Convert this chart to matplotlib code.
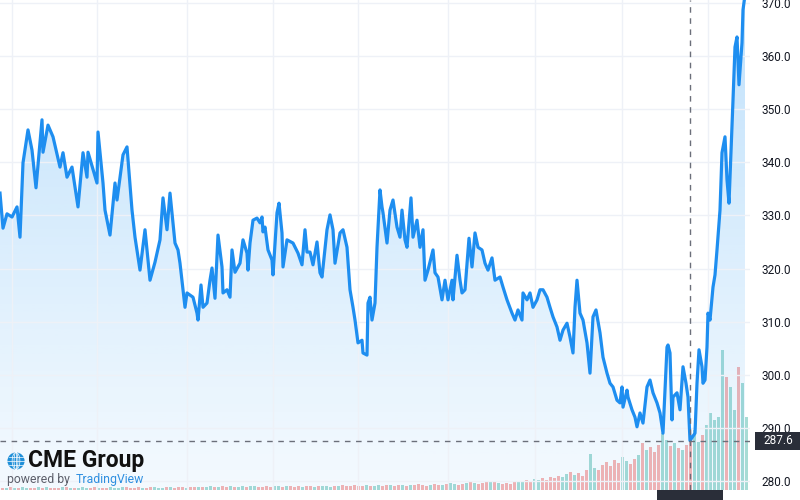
import matplotlib.pyplot as plt
import numpy as np
from matplotlib.patches import Polygon, Rectangle, Circle, Ellipse
from matplotlib.colors import to_rgb

# Price series (session index, settle)
session = [0, 3, 7, 12, 17, 20, 23, 28, 32, 36, 42, 43, 48, 53, 60, 63, 67, 72, 77, 78,
           83, 87, 88, 97, 98, 103, 105, 110, 115, 117, 123, 127, 132, 135, 140, 145, 147, 150, 155, 160,
           163, 167, 170, 175, 178, 180, 185, 187, 193, 197, 198, 201, 203, 207, 210, 212, 215, 218, 222, 223,
           227, 230, 232, 235, 240, 243, 247, 248, 250, 253, 257, 260, 262, 263, 265, 268, 272, 273, 277, 279,
           282, 283, 287, 293, 298, 302, 305, 307, 310, 313, 317, 320, 322, 327, 330, 333, 335, 340, 343, 347,
           350, 353, 355, 358, 362, 363, 367, 368, 370, 372, 375, 377, 380, 382, 383, 387, 390, 393, 397, 400,
           402, 405, 407, 411, 413, 417, 420, 423, 425, 428, 433, 435, 438, 442, 445, 448, 452, 453, 457, 460,
           462, 465, 469, 472, 475, 478, 482, 485, 488, 492, 495, 500, 503, 507, 512, 515, 518, 522, 523, 527,
           530, 533, 537, 540, 543, 547, 550, 553, 557, 560, 563, 567, 570, 573, 575, 577, 580, 583, 587, 590,
           593, 596, 600, 603, 607, 610, 613, 617, 620, 622, 623, 627, 628, 632, 635, 637, 640, 643, 647, 650,
           653, 657, 660, 663, 667, 668, 670, 672, 673, 677, 680, 683, 686, 688, 690, 695, 697, 699, 702, 703,
           705, 707, 708, 710, 713, 715, 717, 720, 722, 725, 727, 729, 732, 733, 735, 737, 739, 742, 743, 745]
price = [334.2, 327.6, 330.3, 329.7, 331.6, 325.9, 339.9, 346.1, 342.3, 335.2, 348.0, 341.9, 347.0, 344.8, 339.1, 341.8, 337.2, 339.1, 332.9, 331.6,
         341.8, 337.2, 341.9, 336.1, 345.7, 336.1, 331.0, 326.3, 336.1, 332.9, 341.4, 342.9, 331.0, 325.9, 319.7, 327.3, 323.5, 317.8, 321.2, 325.4,
         333.3, 327.3, 334.2, 324.8, 323.5, 321.0, 312.7, 315.4, 314.6, 311.6, 310.3, 316.9, 312.7, 313.5, 317.8, 320.1, 314.4, 326.3, 320.3, 315.4,
         316.0, 314.6, 323.5, 319.3, 321.0, 325.4, 322.9, 319.7, 324.8, 329.1, 329.5, 328.6, 329.7, 326.9, 327.8, 323.5, 321.6, 318.8, 330.5, 332.3,
         326.7, 320.3, 325.4, 324.8, 322.9, 320.7, 327.3, 323.1, 323.1, 320.7, 325.0, 319.2, 318.4, 327.3, 330.1, 327.3, 321.0, 326.7, 327.3, 324.0,
         316.0, 312.7, 310.3, 306.0, 306.5, 304.1, 303.7, 313.5, 314.6, 310.3, 313.5, 324.0, 334.8, 331.6, 330.5, 324.8, 331.0, 332.9, 327.8, 325.9,
         331.0, 325.4, 324.0, 333.3, 325.9, 329.1, 324.0, 327.3, 317.8, 319.7, 323.5, 319.2, 318.4, 314.1, 317.8, 314.1, 317.8, 314.1, 322.5, 317.8,
         315.4, 316.0, 325.7, 320.3, 326.7, 324.0, 323.5, 321.0, 319.7, 322.0, 317.8, 318.4, 316.5, 314.1, 311.6, 310.3, 312.2, 310.3, 315.4, 314.1,
         315.4, 312.7, 314.1, 316.0, 316.0, 314.6, 312.7, 310.9, 309.0, 306.5, 308.4, 309.7, 307.1, 304.1, 312.7, 317.8, 311.6, 310.3, 306.0, 300.3,
         310.9, 312.2, 307.9, 303.3, 300.3, 298.4, 297.7, 295.2, 294.7, 297.7, 293.9, 297.1, 295.8, 293.4, 292.0, 290.2, 292.8, 290.9, 297.7, 299.0,
         296.6, 294.7, 292.8, 289.0, 305.2, 305.6, 304.1, 291.5, 295.8, 296.6, 293.4, 301.5, 298.4, 295.8, 287.6, 289.0, 298.4, 304.7, 301.5, 298.4,
         299.0, 305.2, 311.6, 310.3, 316.5, 318.8, 323.5, 331.0, 341.8, 344.8, 336.7, 332.3, 346.6, 351.7, 361.7, 363.6, 354.6, 362.5, 368.7, 371.5]

# Volume (one bar every 4 sessions)
volume = [2, 2, 3, 2, 2, 3, 2, 2, 2, 3, 2, 3, 2, 2, 2, 3, 3, 2, 2, 2, 3, 2, 2, 3, 2,
          2, 2, 3, 2, 2, 3, 3, 2, 2, 3, 2, 2, 3, 3, 2, 2, 3, 3, 2, 3, 3, 2, 3, 3, 3,
          3, 3, 4, 3, 3, 4, 3, 4, 3, 3, 4, 3, 4, 4, 3, 3, 4, 3, 4, 4, 3, 4, 4, 3, 4,
          3, 4, 4, 3, 4, 4, 4, 3, 4, 4, 5, 4, 4, 5, 4, 4, 5, 4, 4, 5, 4, 5, 5, 4, 5,
          5, 4, 5, 5, 6, 5, 4, 5, 6, 5, 5, 6, 7, 6, 5, 6, 7, 8, 7, 6, 7, 8, 9, 8, 7,
          6, 7, 6, 8, 9, 8, 10, 9, 11, 10, 12, 10, 13, 12, 14, 13, 16, 18, 15, 17, 14, 20, 36, 22, 20,
          25, 28, 24, 30, 27, 33, 29, 26, 31, 35, 47, 40, 43, 38, 45, 57, 50, 44, 47, 42, 40, 45, 55, 60, 48,
          55, 65, 77, 70, 73, 140, 113, 103, 80, 123, 107, 73]

price_ticks = [280, 290, 300, 310, 320, 330, 340, 350, 360, 370]
month_lines = [12, 97, 187, 273, 358, 448, 535, 622, 708]
cross_session = 690
cross_price = 287.6

LINE = '#1e8ef0'
YMIN, YMAX = 278.3, 370.56
XMIN, XMAX = 0, 750

plt.rcParams['font.family'] = ['Roboto', 'DejaVu Sans']

fig = plt.figure(figsize=(8, 5), dpi=100, facecolor='white')
rect = [0, 0.02, 0.9375, 0.98]
vax = fig.add_axes(rect, zorder=-1)
ax = fig.add_axes(rect, zorder=0)
ax.patch.set_visible(False)

# volume bars
vol_x = np.arange(len(volume)) * 4
p_start = np.interp(vol_x, session, price)
p_end = np.interp(vol_x + 4, session, price)
vol_colors = ['#a7dcd5' if e >= s else '#f8b4b2' for s, e in zip(p_start, p_end)]
vax.bar(vol_x + 2, volume, width=3.0, color=vol_colors, linewidth=0)
vax.set_xlim(XMIN, XMAX)
vax.set_ylim(0, 490)
vax.axis('off')

# gradient area under the line
verts = [(session[0], YMIN)] + list(zip(session, price)) + [(session[-1], YMIN)]
poly = Polygon(verts, closed=True, fc='none', ec='none')
ax.add_patch(poly)
alpha = np.linspace(0.28, 0.05, 256)
grad = np.zeros((256, 1, 4))
grad[..., :3] = to_rgb('#2196f3')
grad[..., 3] = alpha[:, None]
im = ax.imshow(grad, extent=[XMIN, XMAX, YMIN, YMAX], aspect='auto', origin='upper', zorder=1)
im.set_clip_path(poly)

ax.plot(session, price, color=LINE, lw=2.3, zorder=3, solid_joinstyle='round')

# crosshair
ax.axvline(cross_session, color='#6b6f7a', lw=1, ls=(0, (4, 4)), zorder=4)
ax.axhline(cross_price, color='#6b6f7a', lw=1, ls=(0, (4, 4)), zorder=4)

ax.set_xlim(XMIN, XMAX)
ax.set_ylim(YMIN, YMAX)
ax.set_xticks(month_lines)
ax.set_yticks(price_ticks)
ax.set_yticklabels([f'{v:.1f}' for v in price_ticks])
ax.yaxis.tick_right()
ax.tick_params(axis='y', length=0, pad=8, labelsize=8.5, labelcolor='#131722')
ax.tick_params(axis='x', length=0, labelbottom=False)
ax.grid(True, color='#eef1f7', lw=1, zorder=0)
for s in ax.spines.values():
    s.set_visible(False)

# last-price / crosshair labels
fig.add_artist(Rectangle((755 / 800, 1 - 450 / 500), 45 / 800, 18 / 500,
                         transform=fig.transFigure, fc='#2a2e39', ec='none', zorder=5))
fig.text(778 / 800, 1 - 441 / 500, f'{cross_price:.1f}', color='white', fontsize=8.5,
         ha='center', va='center', zorder=6)
fig.add_artist(Rectangle((657 / 800, 0), 66 / 800, 10 / 500,
                         transform=fig.transFigure, fc='#2a2e39', ec='none', zorder=5))

# CME Group logo
gax = fig.add_axes([7 / 800, 1 - 470 / 500, 18 / 800, 18 / 500])
gax.set_xlim(-1.05, 1.05)
gax.set_ylim(-1.05, 1.05)
gax.set_aspect('equal')
gax.axis('off')
gax.add_patch(Circle((0, 0), 1, fc='#1f8fd8', ec='none'))
for w in (0.9, 0.45):
    gax.add_patch(Ellipse((0, 0), w, 2, fc='none', ec='white', lw=0.5))
gax.plot([0, 0], [-1, 1], color='white', lw=0.5)
for yy in (-0.5, 0, 0.5):
    xx = np.sqrt(1 - yy ** 2)
    gax.plot([-xx, xx], [yy, yy], color='white', lw=0.5)

fig.text(28 / 800, 1 - 461 / 500, 'CME Group', fontsize=16.5, fontweight='bold',
         color='#111111', ha='left', va='center')
fig.text(7 / 800, 1 - 480 / 500, 'powered by', fontsize=8.8, color='#5d606b',
         ha='left', va='center')
fig.text(76 / 800, 1 - 480 / 500, 'TradingView', fontsize=8.8, color='#2e8fe0',
         ha='left', va='center')

fig.savefig('out.png', dpi=100, facecolor='white')
